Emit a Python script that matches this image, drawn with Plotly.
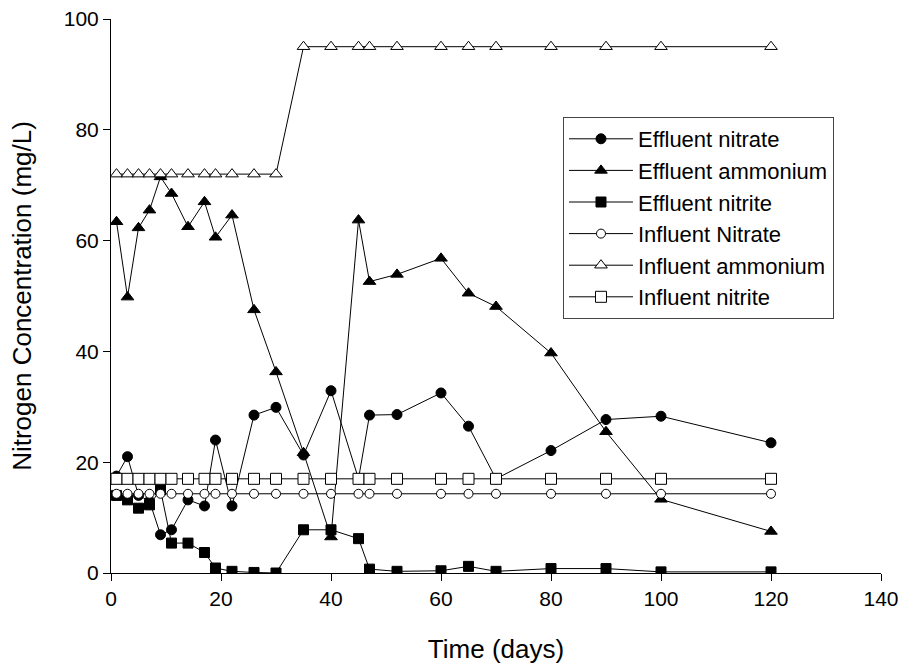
import plotly.graph_objects as go

days = [1, 3, 5, 7, 9, 11, 14, 17, 19, 22, 26, 30, 35, 40, 45, 47, 52, 60, 65, 70, 80, 90, 100, 120]

eff_nitrate = [17.5, 21.0, 14.0, 13.0, 6.9, 7.8, 13.2, 12.1, 24.0, 12.1, 28.5, 29.9, 21.3, 32.9,
               17.0, 28.5, 28.6, 32.5, 26.5, 17.0, 22.1, 27.7, 28.3, 23.5]
eff_ammonium = [63.4, 49.8, 62.3, 65.5, 71.5, 68.5, 62.5, 67.0, 60.6, 64.6, 47.5, 36.3, 21.7, 6.5,
                63.7, 52.6, 53.9, 56.8, 50.5, 48.1, 39.7, 25.5, 13.3, 7.5]
eff_nitrite = [14.0, 13.2, 11.7, 12.3, 15.0, 5.4, 5.4, 3.7, 0.9, 0.3, 0.1, 0.0, 7.8, 7.8,
               6.2, 0.7, 0.3, 0.4, 1.2, 0.3, 0.8, 0.8, 0.2, 0.2]
inf_nitrate = [14.3] * 24
inf_ammonium = [72.0] * 12 + [95.0] * 12
inf_nitrite = [17.0] * 24

names = ["Effluent nitrate", "Effluent ammonium", "Effluent nitrite",
         "Influent Nitrate", "Influent ammonium", "Influent nitrite"]
series = [eff_nitrate, eff_ammonium, eff_nitrite, inf_nitrate, inf_ammonium, inf_nitrite]
symbols = ["circle", "triangle-up", "square", "circle", "triangle-up", "square"]
fills = ["black", "black", "black", "white", "white", "white"]
sizes = [10, 11, 10, 9, 11, 11]

fig = go.Figure()
for i, (nm, ys) in enumerate(zip(names, series)):
    fig.add_trace(go.Scatter(
        x=days, y=ys, name=nm, mode="lines+markers",
        line=dict(color="black", width=1),
        marker=dict(symbol=symbols[i], size=sizes[i], color=fills[i],
                    line=dict(color="black", width=1)),
    ))

font = "Arial, Liberation Sans, sans-serif"
fig.update_layout(
    width=901, height=666,
    margin=dict(l=111, r=20, t=19, b=93),
    paper_bgcolor="white", plot_bgcolor="white",
    font=dict(family=font, color="black", size=21),
    showlegend=True,
    legend=dict(x=0.587, y=0.8231, xanchor="left", yanchor="top",
                bordercolor="#444444", borderwidth=1, bgcolor="white",
                font=dict(size=22, family=font), itemwidth=64, entrywidth=205),
    xaxis=dict(range=[0, 140], tickvals=[0, 20, 40, 60, 80, 100, 120, 140],
               showgrid=False, zeroline=False, showline=True, linecolor="black",
               linewidth=1, ticks="outside", ticklen=7, tickcolor="black",
               tickfont=dict(size=21), automargin=False,
               title=dict(text="Time (days)", font=dict(size=26), standoff=30)),
    yaxis=dict(range=[0, 100], tickvals=[0, 20, 40, 60, 80, 100],
               showgrid=False, zeroline=False, showline=True, linecolor="black",
               linewidth=1, ticks="outside", ticklen=7, tickcolor="black",
               tickfont=dict(size=21), automargin=False,
               title=dict(text="Nitrogen Concentration (mg/L)", font=dict(size=26), standoff=24)),
)

fig.write_html("out.html")
